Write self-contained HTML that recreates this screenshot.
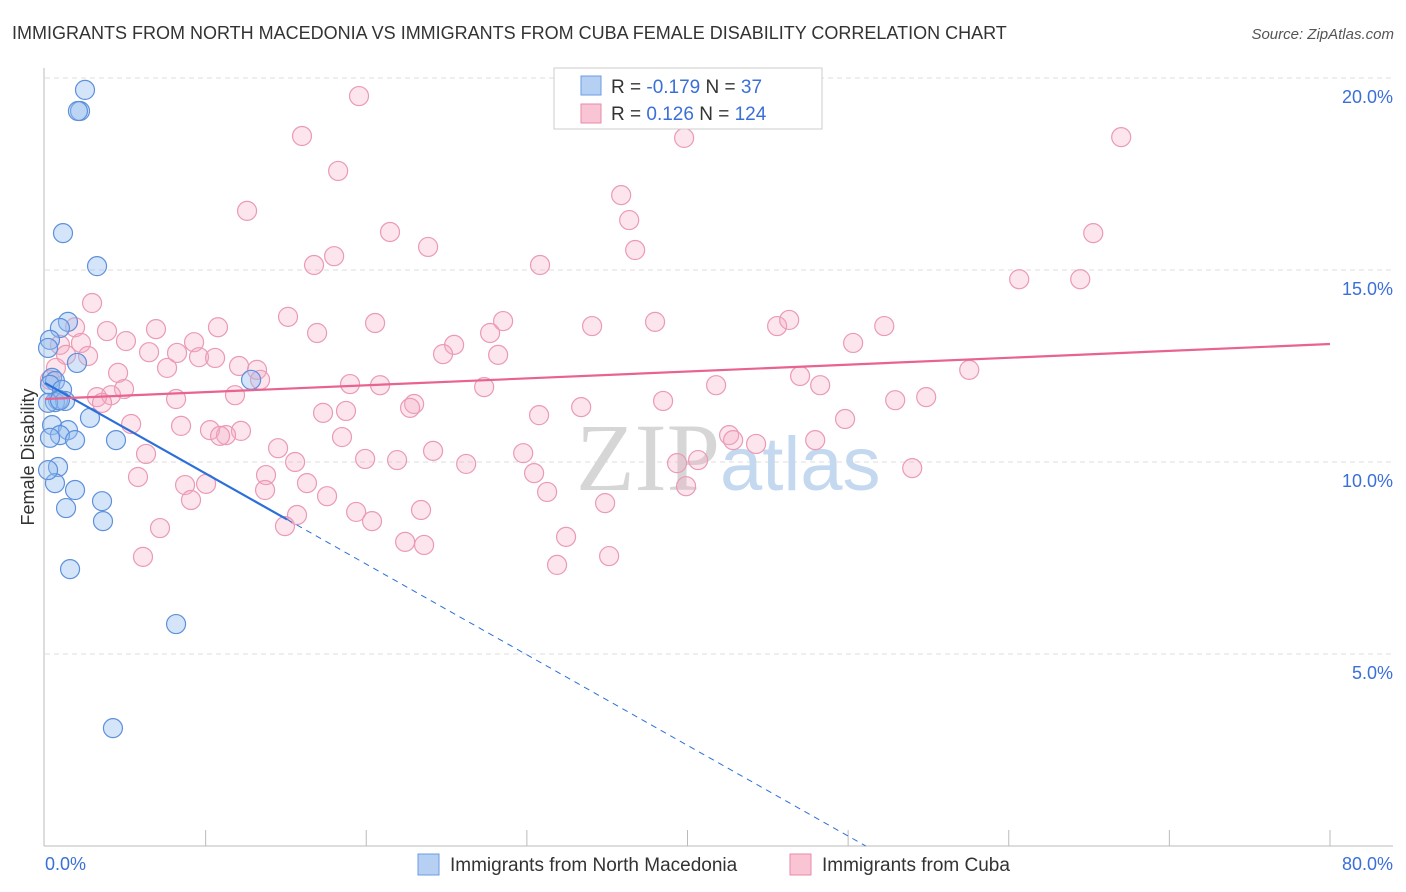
<!DOCTYPE html>
<html><head><meta charset="utf-8"><style>
body{margin:0;background:#fff;font-family:"Liberation Sans",sans-serif}
#wrap{position:relative;width:1406px;height:892px;overflow:hidden}
</style></head><body><div id="wrap">
<svg id="svg" width="1406" height="892" xmlns="http://www.w3.org/2000/svg" font-family="Liberation Sans, sans-serif">
<text x="12" y="39" font-size="18" fill="#333">IMMIGRANTS FROM NORTH MACEDONIA VS IMMIGRANTS FROM CUBA FEMALE DISABILITY CORRELATION CHART</text>
<text x="1394" y="39" font-size="15" fill="#555" font-style="italic" text-anchor="end">Source: ZipAtlas.com</text>
<g id="grid"></g>
<text x="720" y="490" font-size="96" font-family="Liberation Serif, serif" fill="#d6d6d6" text-anchor="end">ZIP</text>
<text x="720" y="490" font-size="76" fill="#c4d8ef">atlas</text>
<g id="pts"></g>
<g id="lines"></g>
<text transform="translate(34,457) rotate(-90)" font-size="18" fill="#333" text-anchor="middle">Female Disability</text>
<text x="45" y="870" font-size="18" fill="#3a6fd8">0.0%</text>
<text x="1393" y="870" font-size="18" fill="#3a6fd8" text-anchor="end">80.0%</text>
<g>
<rect x="554" y="68" width="268" height="61" fill="#fff" stroke="#ccc"/>
<rect x="581" y="76" width="20" height="19" fill="#b5d0f3" stroke="#6a9be0"/>
<rect x="581" y="104" width="20" height="19" fill="#f9c5d5" stroke="#e88aa8"/>
<text x="611" y="93" font-size="19" fill="#333">R = <tspan fill="#3a6fd8">-0.179</tspan>   N = <tspan fill="#3a6fd8"> 37</tspan></text>
<text x="611" y="120" font-size="19" fill="#333">R = <tspan fill="#3a6fd8"> 0.126</tspan>   N = <tspan fill="#3a6fd8">124</tspan></text>
</g>
<g>
<rect x="418" y="854" width="21" height="21" fill="#b5d0f3" stroke="#6a9be0"/>
<text x="450" y="871" font-size="19" fill="#333">Immigrants from North Macedonia</text>
<rect x="790" y="854" width="21" height="21" fill="#f9c5d5" stroke="#e88aa8"/>
<text x="822" y="871" font-size="19" fill="#333">Immigrants from Cuba</text>
</g>
</svg>
<script>
const yTicks=[5,10,15,20];
const yTickLabels=["5.0%","10.0%","15.0%","20.0%"];
const xTicks=[10,20,30,40,50,60,70,80];
const blueX=[2.49,2.18,2.05,1.12,3.24,1.43,0.93,0.31,0.19,1.99,0.44,0.62,0.31,1.06,0.81,0.62,1.25,0.19,0.44,1.43,0.93,0.31,1.87,2.80,4.42,0.81,0.62,1.87,3.55,1.31,3.61,1.56,8.16,4.23,12.83,0.19,0.93];
const blueY=[19.69,19.14,19.14,15.96,15.10,13.65,13.49,13.18,12.97,12.58,12.19,12.11,12.01,11.88,11.61,11.56,11.59,11.54,10.96,10.83,10.70,10.63,10.57,11.15,10.57,9.87,9.45,9.27,8.98,8.80,8.46,7.21,5.78,3.07,12.14,9.79,11.61];
const pinkX=[19.55,16.00,39.79,67.00,18.25,35.87,12.58,36.37,21.48,65.26,23.85,36.74,18.00,16.75,30.82,60.65,64.45,2.93,15.13,37.98,28.52,34.06,20.55,45.58,46.33,52.25,10.77,6.91,3.86,1.87,16.94,27.71,25.47,50.31,5.04,9.28,2.24,0.93,1.31,24.78,2.68,28.21,6.48,8.22,9.59,10.59,12.08,7.60,13.20,57.54,0.68,4.55,47.01,0.31,13.39,18.99,20.86,27.34,41.78,48.26,4.92,11.83,8.16,4.11,3.24,3.55,38.48,52.93,54.86,22.98,22.73,33.38,18.74,17.31,30.76,49.81,5.36,8.47,10.27,12.20,11.27,10.90,18.49,42.59,42.84,44.27,47.95,14.51,24.16,6.29,29.77,19.93,21.92,15.57,39.35,40.66,26.22,13.76,30.45,53.99,5.79,16.31,8.72,10.03,39.91,17.56,13.70,9.09,31.26,34.87,19.37,23.41,15.69,20.36,14.94,7.16,32.44,22.42,23.60,6.10,35.12,31.88];
const pinkY=[19.53,18.49,18.44,18.46,17.58,16.95,16.54,16.30,15.99,15.96,15.60,15.52,15.36,15.13,15.13,14.76,14.76,14.14,13.78,13.65,13.67,13.54,13.62,13.54,13.70,13.54,13.51,13.46,13.41,13.51,13.36,13.36,13.05,13.10,13.15,13.12,13.10,13.05,12.79,12.81,12.76,12.79,12.86,12.84,12.73,12.71,12.50,12.45,12.40,12.40,12.45,12.32,12.24,12.14,12.14,12.03,12.00,11.95,12.00,12.00,11.90,11.74,11.64,11.74,11.69,11.54,11.59,11.61,11.69,11.51,11.41,11.43,11.33,11.28,11.22,11.12,10.99,10.94,10.83,10.81,10.70,10.68,10.65,10.70,10.57,10.47,10.57,10.36,10.29,10.21,10.23,10.08,10.05,10.00,9.97,10.05,9.95,9.66,9.71,9.84,9.61,9.45,9.40,9.43,9.37,9.11,9.27,9.01,9.22,8.93,8.70,8.75,8.62,8.46,8.33,8.28,8.05,7.92,7.84,7.53,7.55,7.32];
const blueTrend=[12.06,-0.236];
const pinkTrend=[11.64,0.0179];
const NS="http://www.w3.org/2000/svg";
const X=v=>45+v*(1285/80);
const Y=v=>846-v*38.4;
function mk(tag,attrs,parent){const e=document.createElementNS(NS,tag);for(const k in attrs)e.setAttribute(k,attrs[k]);parent.appendChild(e);return e;}
const grid=document.getElementById('grid');
yTicks.forEach((t,i)=>{
 const l=mk('line',{x1:45,x2:1393,y1:Y(t),y2:Y(t),stroke:'#ddd','stroke-dasharray':'5,4'},grid);
 
 
 const tx=mk('text',{x:1393,y:Y(t)+25,'font-size':18,fill:'#3a6fd8','text-anchor':'end'},grid);
 tx.textContent=yTickLabels[i];
 
 
});
const ax=mk('line',{x1:44,x2:44,y1:68,y2:846,stroke:'#bbb'},grid);


const bx=mk('line',{x1:44,x2:1393,y1:846,y2:846,stroke:'#bbb'},grid);


xTicks.forEach(t=>{
 const l=mk('line',{x1:X(t),x2:X(t),y1:830,y2:846,stroke:'#bbb'},grid);
 
 
});
const pts=document.getElementById('pts');
pinkX.forEach((x,i)=>{
 const c=mk('circle',{cx:X(x),cy:Y(pinkY[i]),r:9.5,fill:'rgba(246,170,195,0.3)',stroke:'#eb9ab4','stroke-width':1.2},pts);
 
 
});
blueX.forEach((x,i)=>{
 const c=mk('circle',{cx:X(x),cy:Y(blueY[i]),r:9.5,fill:'rgba(150,190,240,0.4)',stroke:'#5d90dc','stroke-width':1.2},pts);
 
 
});
const lines=document.getElementById('lines');
const bEnd=15.07, bZero=-blueTrend[0]/blueTrend[1];
const b1=mk('line',{x1:X(0),y1:Y(blueTrend[0]),x2:X(bEnd),y2:Y(blueTrend[0]+blueTrend[1]*bEnd),stroke:'#2c6fd9','stroke-width':2.2},lines);


const b2=mk('line',{x1:X(bEnd),y1:Y(blueTrend[0]+blueTrend[1]*bEnd),x2:X(bZero),y2:Y(0),stroke:'#2c6fd9','stroke-width':1,'stroke-dasharray':'6,5'},lines);


const p1=mk('line',{x1:X(0),y1:Y(pinkTrend[0]),x2:X(80),y2:Y(pinkTrend[0]+pinkTrend[1]*80),stroke:'#e8638f','stroke-width':2.2},lines);


</script>
</div></body></html>
